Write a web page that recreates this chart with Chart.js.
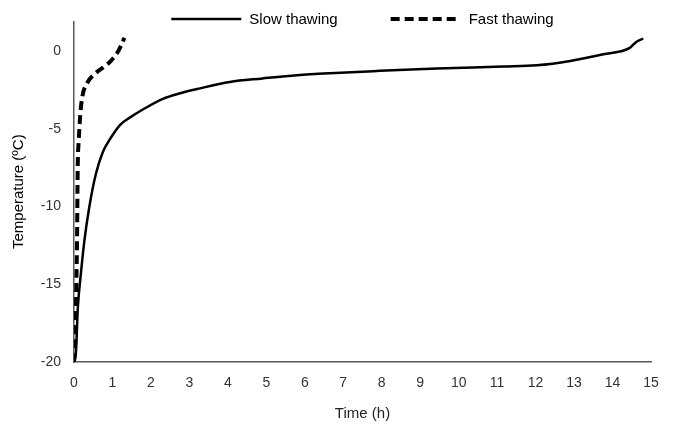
<!DOCTYPE html>
<html>
<head>
<meta charset="utf-8">
<script src="https://cdn.jsdelivr.net/npm/chart.js@4/dist/chart.umd.min.js"></script>
<style>
  html, body { margin: 0; padding: 0; background: #ffffff; }
  #wrap { width: 673px; height: 424px; }
</style>
</head>
<body>
<div id="wrap"><canvas id="c" width="673" height="424"></canvas></div>
<script>
// ---- Data ----
const seriesNames = ["Slow thawing", "Fast thawing"];

const slowTime = [0, 0.05, 0.1, 0.18, 0.27, 0.4, 0.57, 0.75, 0.91, 1.2, 1.46, 1.8, 2.31, 2.76, 3.2, 4.05, 4.9, 5.8, 6.65, 7.95, 9.43, 11.15, 12.03, 12.9, 13.76, 14.45, 14.6, 14.8];
const slowTemp = [-20, -19.4, -16.5, -14.3, -12.2, -10.0, -7.9, -6.5, -5.77, -4.75, -4.27, -3.75, -3.08, -2.72, -2.45, -1.99, -1.77, -1.56, -1.43, -1.28, -1.13, -1.0, -0.92, -0.64, -0.21, 0.2, 0.55, 0.8];

const fastTime = [0, 0.04, 0.06, 0.08, 0.09, 0.1, 0.12, 0.16, 0.22, 0.35, 0.53, 0.75, 0.96, 1.13, 1.22, 1.31];
const fastTemp = [-20, -18, -15, -12, -9, -7, -5.9, -4.17, -2.9, -2.03, -1.5, -1.07, -0.64, -0.1, 0.32, 0.85];

const yTicks = [-20, -15, -10, -5, 0];
const xTickStep = 1;
const xAxisTitle = "Time (h)";
const yAxisTitle = "Temperature (ºC)";

function toPoints(xs, ys) { return xs.map((x, i) => ({ x: x, y: ys[i] })); }

// custom legend drawn from the datasets' own styles
const legendPlugin = {
  id: 'topLegend',
  afterDraw(chart) {
    const ctx = chart.ctx;
    const area = chart.chartArea;
    const sample = 70, textGap = 8, itemGap = 53, y = 19;
    ctx.save();
    ctx.font = '15px "Liberation Sans", Arial, sans-serif';
    const items = chart.data.datasets.map(ds => ({
      ds, w: sample + textGap + ctx.measureText(ds.label).width
    }));
    const total = items.reduce((s, it) => s + it.w, 0) + itemGap * (items.length - 1);
    let x = (area.left + area.right) / 2 - total / 2;
    items.forEach(it => {
      ctx.beginPath();
      ctx.strokeStyle = it.ds.borderColor;
      ctx.lineWidth = it.ds.borderWidth;
      ctx.setLineDash(it.ds.borderDash || []);
      ctx.moveTo(x, y);
      ctx.lineTo(x + sample, y);
      ctx.stroke();
      ctx.setLineDash([]);
      ctx.fillStyle = '#000000';
      ctx.textBaseline = 'middle';
      ctx.textAlign = 'left';
      ctx.fillText(it.ds.label, x + sample + textGap, y + 1);
      x += it.w + itemGap;
    });
    ctx.restore();
  }
};

new Chart(document.getElementById('c'), {
  type: 'line',
  data: {
    datasets: [
      {
        label: seriesNames[0],
        data: toPoints(slowTime, slowTemp),
        borderColor: '#000000',
        borderWidth: 2.5,
        pointRadius: 0,
        cubicInterpolationMode: 'monotone',
        fill: false
      },
      {
        label: seriesNames[1],
        data: toPoints(fastTime, fastTemp),
        borderColor: '#000000',
        borderWidth: 4,
        borderDash: [9, 5],
        pointRadius: 0,
        cubicInterpolationMode: 'monotone',
        fill: false
      }
    ]
  },
  options: {
    responsive: false,
    animation: false,
    layout: { padding: { top: 20, right: 22, left: 0, bottom: 0 } },
    plugins: {
      legend: { display: false },
      tooltip: { enabled: false }
    },
    scales: {
      x: {
        type: 'linear',
        min: 0,
        max: 15,
        grid: { display: false, drawTicks: false },
        border: { display: true, color: '#595959', width: 1.5 },
        ticks: {
          stepSize: xTickStep,
          padding: 13,
          color: '#333333',
          font: { family: '"Liberation Sans", Arial, sans-serif', size: 14 },
          maxRotation: 0
        },
        title: {
          display: true,
          text: xAxisTitle,
          color: '#222222',
          font: { family: '"Liberation Sans", Arial, sans-serif', size: 15 },
          padding: { top: 4, bottom: 1 }
        },
        afterFit(scale) { scale.height = 62; }
      },
      y: {
        type: 'linear',
        min: -20,
        max: 1.9,
        grid: { display: false, drawTicks: false },
        border: { display: true, color: '#595959', width: 1.5 },
        afterBuildTicks(scale) { scale.ticks = yTicks.map(v => ({ value: v })); },
        ticks: {
          padding: 13,
          color: '#333333',
          font: { family: '"Liberation Sans", Arial, sans-serif', size: 14 }
        },
        title: {
          display: true,
          text: yAxisTitle,
          color: '#000000',
          font: { family: '"Liberation Sans", Arial, sans-serif', size: 15 },
          padding: { top: 10, bottom: 0 }
        },
        afterFit(scale) { scale.width = 74; }
      }
    }
  },
  plugins: [legendPlugin]
});
</script>
</body>
</html>
